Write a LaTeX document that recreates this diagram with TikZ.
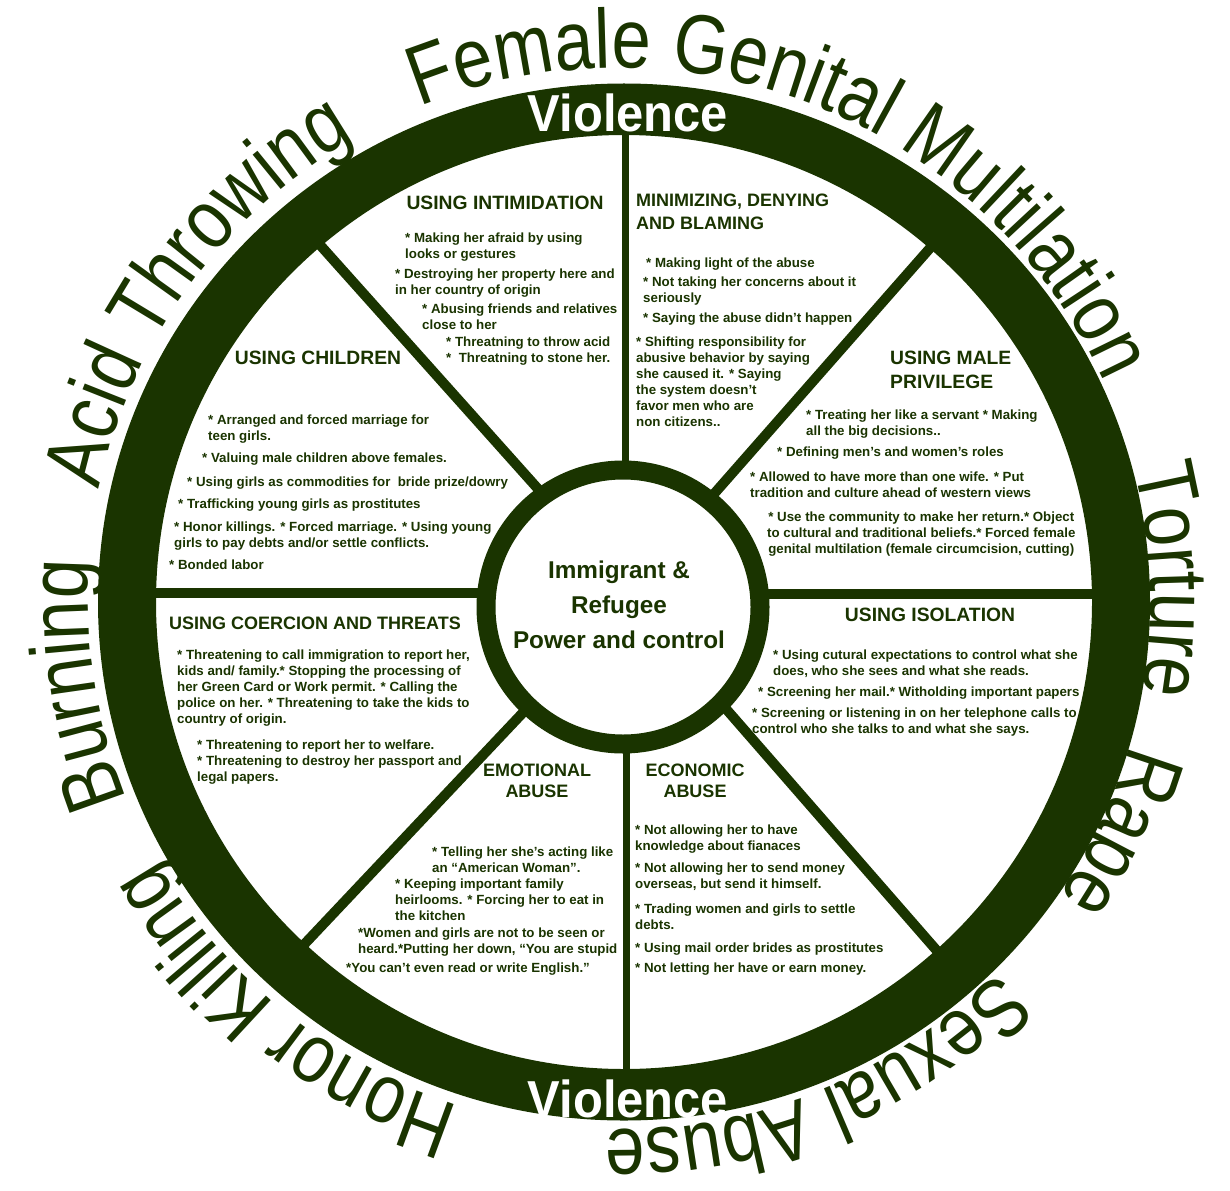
\documentclass[tikz,border=0pt]{standalone}
\usepackage{fontspec}
\setmainfont{Liberation Sans}
\newfontfamily\ringfont[FakeStretch=0.84]{Liberation Sans}
\newfontfamily\violfont[FakeStretch=0.94]{Liberation Sans}
\usetikzlibrary{decorations.text,calc}
\definecolor{wheelgreen}{RGB}{26,52,0}

\begin{document}
\begin{tikzpicture}[x=1pt,y=1pt,
    item/.style={anchor=north west,inner sep=0pt,align=left,text=wheelgreen,
        font=\fontsize{13.3}{16}\selectfont\bfseries},
    head/.style={inner sep=0pt,align=center,text=wheelgreen,
        font=\fontsize{19.3}{23.5}\selectfont\bfseries},
    spoke/.style={draw=wheelgreen,line width=10pt},
    violence/.style={inner sep=0pt,text=white,font=\violfont\fontsize{52}{52}\selectfont\bfseries},
    ringtext/.style={decorate,decoration={text along path,text align=center,
        text color=wheelgreen,text={|\ringfont\fontsize{84}{84}\selectfont|#1}}}]
    \useasboundingbox (0,0) rectangle (1230,-1190);
    \fill[white] (0,0) rectangle (1230,-1190);

    \coordinate (C) at (624,-602);
    \coordinate (H) at (623,-607);
    \coordinate (T) at (619,-599);

    % spoke ends: ring side and hub side
    \coordinate (rN) at (625,-125);  \coordinate (hN) at (625,-480);
    \coordinate (rS) at (626,-1085); \coordinate (hS) at (626,-740);
    \coordinate (rW) at (140,-593);  \coordinate (hW) at (485,-593);
    \coordinate (rE) at (1105,-594); \coordinate (hE) at (760,-594);
    \coordinate (rNW) at (312,-236); \coordinate (hNW) at (539,-490);
    \coordinate (rNE) at (938,-239); \coordinate (hNE) at (713,-495);
    \coordinate (rSW) at (296,-953); \coordinate (hSW) at (533,-702);
    \coordinate (rSE) at (945,-960); \coordinate (hSE) at (720,-702);

    \draw[spoke,line width=7pt] (rN)--(hN);
    \draw[spoke,line width=7pt] (rS)--(hS);
    \draw[spoke] (rW)--(hW);
    \draw[spoke] (rE)--(hE);
    \draw[spoke] (rNW)--(hNW);
    \draw[spoke] (rNE)--(hNE);
    \draw[spoke] (rSW)--(hSW);
    \draw[spoke] (rSE)--(hSE);

    % outer ring and hub
    \fill[wheelgreen,even odd rule] (C) ellipse [x radius=526,y radius=518.5]
        (C) ellipse [x radius=468,y radius=467];
    \draw[wheelgreen,line width=19pt,fill=white] (H) circle [radius=137];

    \node[violence] (vtop) at (628,-113) {Violence};
    \node[violence] (vbot) at (628,-1099) {Violence};

    \node[inner sep=0pt,align=center,text=wheelgreen,font=\fontsize{24.3}{35}\selectfont\bfseries] (hub) at (619,-605)
        {Immigrant \&\\Refugee\\Power and control};

    % words round the wheel
    \path[ringtext={Burning}] ($(T)+(229:531)$) arc[start angle=229,end angle=149,radius=531];
    \path[ringtext={Acid Throwing}] ($(T)+(184:531)$) arc[start angle=184,end angle=104,radius=531];
    \path[ringtext={Female Genital Multilation}] ($(T)+(128:531)$) arc[start angle=128,end angle=8,radius=531];
    \path[ringtext={Torture}] ($(T)+(42:531)$) arc[start angle=42,end angle=-38,radius=531];
    \path[ringtext={Rape}] ($(T)+(15:531)$) arc[start angle=15,end angle=-65,radius=531];
    \path[ringtext={Sexual Abuse}] ($(T)+(-28:531)$) arc[start angle=-28,end angle=-108,radius=531];
    \path[ringtext={Honor Killing}] ($(T)+(271:531)$) arc[start angle=271,end angle=191,radius=531];

    % using intimidation
    \node[head] (intim) at (505,-203) {USING INTIMIDATION};
    \node[item] (in1) at (405,-232.5) {* Making her afraid by using\\looks or gestures};
    \node[item] (in2) at (395,-268.5) {* Destroying her property here and\\in her country of origin};
    \node[item] (in3) at (422,-303.5) {* Abusing friends and relatives\\close to her};
    \node[item] (in4) at (446,-336.5) {* Threatning to throw acid\\*\ \ Threatning to stone her.};

    % minimizing
    \node[head,anchor=north west,align=left,font=\fontsize{18}{23}\selectfont\bfseries] (minim) at (636,-194)
        {MINIMIZING, DENYING\\AND BLAMING};
    \node[item] (mi1) at (646,-257.5) {* Making light of the abuse};
    \node[item] (mi2) at (643,-276.5) {* Not taking her concerns about it\\seriously};
    \node[item] (mi3) at (643,-312.5) {* Saying the abuse didn’t happen};
    \node[item] (mi4) at (636,-336.5) {* Shifting responsibility for\\abusive behavior by saying\\she caused it. * Saying\\the system doesn’t\\favor men who are\\non citizens..};

    % using children
    \node[head] (child) at (318,-358) {USING CHILDREN};
    \node[item] (ch1) at (208,-414.5) {* Arranged and forced marriage for\\teen girls.};
    \node[item] (ch2) at (202,-452.5) {* Valuing male children above females.};
    \node[item] (ch3) at (187,-476.5) {* Using girls as commodities for\ \ bride prize/dowry};
    \node[item] (ch4) at (178,-498.5) {* Trafficking young girls as prostitutes};
    \node[item] (ch5) at (174,-521.5) {* Honor killings. * Forced marriage. * Using young\\girls to pay debts and/or settle conflicts.};
    \node[item] (ch6) at (169,-559.5) {* Bonded labor};

    % male privilege
    \node[head,anchor=north west,align=left] (male) at (890,-351) {USING MALE\\PRIVILEGE};
    \node[item] (ma1) at (806,-409.5) {* Treating her like a servant * Making\\all the big decisions..};
    \node[item] (ma2) at (777,-446.5) {* Defining men’s and women’s roles};
    \node[item] (ma3) at (750,-471.5) {* Allowed to have more than one wife. * Put\\tradition and culture ahead of western views};
    \node[item,align=center] (ma4) at (767,-511.5) {* Use the community to make her return.* Object\\to cultural and traditional beliefs.* Forced female\\genital multilation (female circumcision, cutting)};

    % coercion and threats
    \node[head,anchor=west,font=\fontsize{18}{23}\selectfont\bfseries] (coerc) at (169,-623) {USING COERCION AND THREATS};
    \node[item] (co1) at (177,-649.5) {* Threatening to call immigration to report her,\\kids and/ family.* Stopping the processing of\\her Green Card or Work permit. * Calling the\\police on her. * Threatening to take the kids to\\country of origin.};
    \node[item] (co2) at (197,-739.5) {* Threatening to report her to welfare.\\* Threatening to destroy her passport and\\legal papers.};

    % isolation
    \node[head] (isol) at (930,-615) {USING ISOLATION};
    \node[item] (is1) at (773,-649.5) {* Using cutural expectations to control what she\\does, who she sees and what she reads.};
    \node[item] (is2) at (758,-686.5) {* Screening her mail.* Witholding important papers};
    \node[item] (is3) at (752,-707.5) {* Screening or listening in on her telephone calls to\\control who she talks to and what she says.};

    % emotional abuse
    \node[head,font=\fontsize{18}{21}\selectfont\bfseries] (emot) at (537,-780.5) {EMOTIONAL\\ABUSE};
    \node[item] (em1) at (432,-846.5) {* Telling her she’s acting like\\an “American Woman”.};
    \node[item] (em2) at (395,-878.5) {* Keeping important family\\heirlooms. * Forcing her to eat in\\the kitchen};
    \node[item] (em3) at (358,-927.5) {*Women and girls are not to be seen or\\heard.*Putting her down, “You are stupid};
    \node[item] (em4) at (346,-962.5) {*You can’t even read or write English.”};

    % economic abuse
    \node[head,font=\fontsize{18}{21}\selectfont\bfseries] (econ) at (695,-780.5) {ECONOMIC\\ABUSE};
    \node[item] (ec1) at (635,-824.5) {* Not allowing her to have\\knowledge about fianaces};
    \node[item] (ec2) at (635,-862.5) {* Not allowing her to send money\\overseas, but send it himself.};
    \node[item] (ec3) at (635,-903.5) {* Trading women and girls to settle\\debts.};
    \node[item] (ec4) at (635,-942.5) {* Using mail order brides as prostitutes};
    \node[item] (ec5) at (635,-962.5) {* Not letting her have or earn money.};
\end{tikzpicture}
\end{document}
